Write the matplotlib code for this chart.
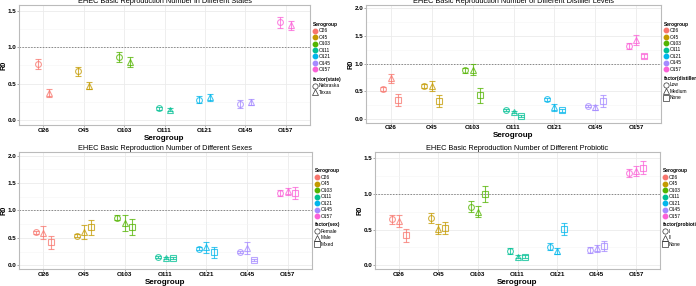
import numpy as np
import matplotlib.pyplot as plt
from matplotlib.lines import Line2D

plt.rcParams["font.family"] = ["Liberation Sans", "DejaVu Sans"]

# serogroups and ggplot hue colours
serogroups = ["O26", "O45", "O103", "O111", "O121", "O145", "O157"]
colors = ["#F8766D", "#C49A00", "#53B400", "#00C094", "#00B6EB", "#A58AFF", "#FB61D7"]

# states
state_labels = ["Nebraska", "Texas"]
state_nebraska = [0.77, 0.67, 0.87, 0.16, 0.28, 0.22, 1.34]
state_nebraska_err = [0.07, 0.06, 0.07, 0.02, 0.05, 0.05, 0.07]
state_texas = [0.37, 0.47, 0.80, 0.14, 0.31, 0.25, 1.30]
state_texas_err = [0.05, 0.05, 0.07, 0.02, 0.05, 0.04, 0.06]

# distiller levels
distiller_labels = ["Low", "Medium", "None"]
distiller_low = [0.54, 0.60, 0.88, 0.17, 0.36, 0.23, 1.32]
distiller_low_err = [0.04, 0.04, 0.05, 0.02, 0.03, 0.02, 0.05]
distiller_med = [0.74, 0.59, 0.89, 0.13, 0.21, 0.21, 1.42]
distiller_med_err = [0.08, 0.09, 0.10, 0.02, 0.06, 0.05, 0.09]
distiller_none = [0.34, 0.33, 0.43, 0.06, 0.16, 0.32, 1.14]
distiller_none_err = [0.11, 0.11, 0.14, 0.02, 0.03, 0.11, 0.03]

# sexes
sex_labels = ["Female", "Male", "Mixed"]
sex_female = [0.60, 0.54, 0.87, 0.15, 0.30, 0.24, 1.32]
sex_female_err = [0.03, 0.03, 0.05, 0.02, 0.03, 0.02, 0.05]
sex_male = [0.59, 0.60, 0.77, 0.13, 0.33, 0.32, 1.35]
sex_male_err = [0.12, 0.13, 0.15, 0.02, 0.10, 0.11, 0.07]
sex_mixed = [0.42, 0.69, 0.70, 0.13, 0.24, 0.10, 1.32]
sex_mixed_err = [0.12, 0.13, 0.15, 0.02, 0.10, 0.02, 0.11]

# probiotic
prob_labels = ["I", "II", "None"]
prob_1 = [0.64, 0.66, 0.82, 0.20, 0.26, 0.21, 1.29]
prob_1_err = [0.06, 0.07, 0.08, 0.04, 0.05, 0.04, 0.06]
prob_2 = [0.62, 0.51, 0.75, 0.12, 0.20, 0.24, 1.32]
prob_2_err = [0.08, 0.07, 0.08, 0.02, 0.04, 0.05, 0.07]
prob_none = [0.42, 0.52, 1.00, 0.12, 0.51, 0.27, 1.36]
prob_none_err = [0.09, 0.08, 0.11, 0.02, 0.08, 0.07, 0.09]

markers = ["o", "^", "s"]

W, H = 696, 286
fig = plt.figure(figsize=(W / 100, H / 100), dpi=100)
fig.patch.set_facecolor("white")


def px_axes(left, top, right, bottom):
    return fig.add_axes([left / W, 1 - bottom / H, (right - left) / W, (bottom - top) / H])


def panel(ax, title, groups, labels, factor_name, ylim, yticks, dodge):
    x = np.arange(len(serogroups))
    n = len(groups)
    offsets = (np.arange(n) - (n - 1) / 2) * dodge
    for k, (vals, errs) in enumerate(groups):
        for i in range(len(serogroups)):
            ax.errorbar(x[i] + offsets[k], vals[i], yerr=errs[i], fmt=markers[k],
                        color=colors[i], alpha=0.75, mfc="none", mec=colors[i],
                        ms=4.2, mew=0.8, elinewidth=0.8, capsize=2, capthick=0.8, zorder=3)
    ax.axhline(1.0, color="#888888", ls=(0, (1.5, 1.5)), lw=0.7, zorder=2)
    ax.set_xlim(-0.6, len(serogroups) - 0.4)
    ax.set_ylim(*ylim)
    ax.set_xticks(x)
    ax.set_xticklabels(serogroups, fontsize=4.5, fontweight="bold")
    ax.set_yticks(yticks)
    ax.set_yticklabels([f"{t:.1f}" for t in yticks], fontsize=4.5, fontweight="bold")
    ax.set_yticks([(a + b) / 2 for a, b in zip(yticks[:-1], yticks[1:])], minor=True)
    ax.set_xlabel("Serogroup", fontsize=5.8, fontweight="bold")
    ax.set_ylabel("R0", fontsize=5.2, fontweight="bold")
    ax.xaxis.label.set_va("top")
    ax.yaxis.label.set_va("center")
    pos = ax.get_position()
    ax.xaxis.set_label_coords(0.5, -9.5 / (pos.height * H))
    ax.yaxis.set_label_coords(-15 / (pos.width * W), 0.5)
    ax.set_title(title, fontsize=5.3, pad=1.5)
    ax.grid(True, which="major", color="#EBEBEB", lw=0.6, zorder=0)
    ax.grid(True, which="minor", axis="y", color="#F5F5F5", lw=0.4, zorder=0)
    ax.set_axisbelow(True)
    for s in ax.spines.values():
        s.set_color("#BBBBBB")
        s.set_linewidth(0.8)
    ax.tick_params(length=1.2, width=0.5, color="#888888", pad=0.6)
    ax.tick_params(which="minor", length=0)

    # legends
    h1 = [Line2D([], [], marker="o", ls="none", color=c, ms=3.2) for c in colors]
    leg1 = ax.legend(h1, serogroups, title="Serogroup", loc="upper left",
                     bbox_to_anchor=(1.0, 0.88), fontsize=3.5, title_fontsize=3.5,
                     frameon=False, handlelength=1.0, handletextpad=0.3,
                     labelspacing=0.3, borderpad=0.2, borderaxespad=0.3,
                     alignment="left")
    leg1.get_title().set_fontweight("bold")
    ax.add_artist(leg1)
    h2 = [Line2D([], [], marker=markers[k], ls="none", color="#333333", mfc="none",
                 ms=3.8, mew=0.5) for k in range(n)]
    leg2 = ax.legend(h2, labels, title=factor_name, loc="upper left",
                     bbox_to_anchor=(1.0, 0.42), fontsize=3.5, title_fontsize=3.5,
                     frameon=False, handlelength=1.0, handletextpad=0.3,
                     labelspacing=0.3, borderpad=0.2, borderaxespad=0.3,
                     alignment="left")
    leg2.get_title().set_fontweight("bold")


ax1 = px_axes(19, 5, 310, 125)
panel(ax1, "EHEC Basic Reproduction Number in Different States",
      [(state_nebraska, state_nebraska_err), (state_texas, state_texas_err)],
      state_labels, "factor(state)", (-0.07, 1.58), [0.0, 0.5, 1.0, 1.5], 0.27)

ax2 = px_axes(366, 5, 661, 123)
panel(ax2, "EHEC Basic Reproduction Number of Different Distiller Levels",
      [(distiller_low, distiller_low_err), (distiller_med, distiller_med_err),
       (distiller_none, distiller_none_err)],
      distiller_labels, "factor(distiller)", (-0.07, 2.06), [0.0, 0.5, 1.0, 1.5, 2.0], 0.18)

ax3 = px_axes(19, 152, 312, 269)
panel(ax3, "EHEC Basic Reproduction Number of Different Sexes",
      [(sex_female, sex_female_err), (sex_male, sex_male_err), (sex_mixed, sex_mixed_err)],
      sex_labels, "factor(sex)", (-0.07, 2.07), [0.0, 0.5, 1.0, 1.5, 2.0], 0.18)

ax4 = px_axes(375, 152, 660, 269)
panel(ax4, "EHEC Basic Reproduction Number of Different Probiotic",
      [(prob_1, prob_1_err), (prob_2, prob_2_err), (prob_none, prob_none_err)],
      prob_labels, "factor(probiotic)", (-0.05, 1.58), [0.0, 0.5, 1.0, 1.5], 0.18)

fig.savefig("out.png", dpi=100)
